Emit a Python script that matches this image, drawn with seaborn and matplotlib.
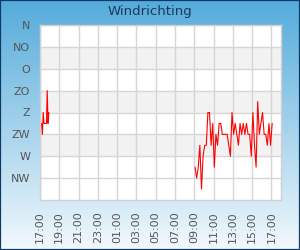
import numpy as np
import pandas as pd
import matplotlib
matplotlib.use("Agg")
import matplotlib.pyplot as plt
import seaborn as sns

# ---------------- data ----------------
title = "Windrichting"
dir_labels = ["N", "NO", "O", "ZO", "Z", "ZW", "W", "NW"]
dir_degrees = [0, 45, 90, 135, 180, 225, 270, 315]
x_tick_labels = ["17:00", "19:00", "21:00", "23:00", "01:00", "03:00", "05:00",
                 "07:00", "09:00", "11:00", "13:00", "15:00", "17:00"]
band_ranges = [(45, 90), (135, 180), (225, 270)]

seg1_start = "2024-01-01 17:10"
seg1_freq = "5min"
seg1_values = [202.5, 225, 180, 202.5, 202.5, 202.5, 202.5, 135, 202.5, 180]

seg2_start = "2024-01-02 09:05"
seg2_freq = "10min"
seg2_values = [292.5, 315, 292.5, 247.5, 337.5, 270, 247.5, 247.5, 180, 180,
               247.5, 202.5, 292.5, 225, 247.5, 202.5, 202.5, 225, 225, 225,
               225, 247.5, 270, 180, 225, 202.5, 225, 247.5, 202.5, 225,
               202.5, 225, 202.5, 225, 225, 270, 180, 247.5, 292.5, 157.5,
               225, 202.5, 180, 225, 225, 247.5, 202.5, 247.5, 202.5]

x_start = "2024-01-01 17:00"
x_end = "2024-01-02 18:00"

# ---------------- frame ----------------
df = pd.concat([
    pd.DataFrame({"time": pd.date_range(seg1_start, periods=len(seg1_values), freq=seg1_freq),
                  "dir": seg1_values, "seg": 1}),
    pd.DataFrame({"time": pd.date_range(seg2_start, periods=len(seg2_values), freq=seg2_freq),
                  "dir": seg2_values, "seg": 2}),
], ignore_index=True)

sns.set_theme(style="white")
plt.rcParams["font.family"] = ["DejaVu Sans"]

fig = plt.figure(figsize=(3, 2.5), dpi=100)

# background gradient
bg = fig.add_axes([0, 0, 1, 1], zorder=-5)
top = np.array([0.33, 0.67, 0.86])
bot = np.array([0.95, 0.975, 0.99])
t = np.linspace(0, 1, 256)[:, None]
grad = top[None, :] * (1 - t) + bot[None, :] * t
bg.imshow(grad[:, None, :], aspect="auto", extent=[0, 1, 0, 1], origin="upper")
bg.set_xlim(0, 1)
bg.set_ylim(0, 1)
bg.set_xticks([])
bg.set_yticks([])
for s in bg.spines.values():
    s.set_color("#0c3a66")
    s.set_linewidth(1.6)

ax = fig.add_axes([40 / 300, 50 / 250, 241 / 300, 175 / 250])
ax.set_facecolor("white")
for a, b in band_ranges:
    ax.axhspan(a, b, color="#f2f2f2", zorder=0, lw=0)

sns.lineplot(data=df, x="time", y="dir", units="seg", estimator=None,
             color="#ff0000", lw=0.8, ax=ax, legend=False, zorder=3)

ticks = pd.date_range(x_start, periods=len(x_tick_labels), freq="2h")
ax.set_xticks(ticks)
ax.set_xticklabels(x_tick_labels, rotation=90)
ax.set_xlim(pd.Timestamp(x_start), pd.Timestamp(x_end))
ax.set_yticks(dir_degrees)
ax.set_yticklabels(dir_labels)
ax.set_ylim(360, 0)
ax.set_xlabel("")
ax.set_ylabel("")
ax.grid(True, color="#d6d6d6", lw=1.0)
ax.set_axisbelow(True)
ax.tick_params(axis="both", length=0, colors="#555555", labelsize=8)
ax.tick_params(axis="x", pad=8)
ax.tick_params(axis="y", pad=7)
for s in ax.spines.values():
    s.set_color("#d0d0d0")
    s.set_linewidth(1.0)

fig.text(0.5, 1 - 12 / 250, title, ha="center", va="center",
         fontsize=9.5, color="#1b3a5c")

fig.savefig("out.png", dpi=100)
